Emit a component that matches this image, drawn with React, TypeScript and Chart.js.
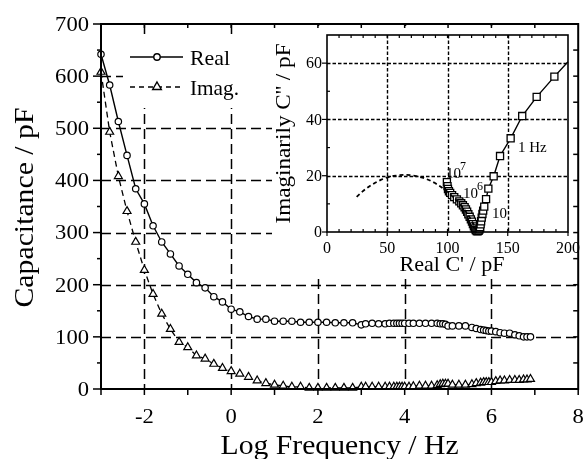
import React, { useEffect, useRef } from 'react';
import { Chart, registerables } from 'chart.js';

Chart.register(...registerables);

const FONT = '"Liberation Serif", "Times New Roman", serif';

// ---------- main chart data ----------
const logFreq = [
  -3.0, -2.8, -2.6, -2.4, -2.2, -2.0, -1.8, -1.6, -1.4, -1.2,
  -1.0, -0.8, -0.6, -0.4, -0.2, 0.0, 0.2, 0.4, 0.6, 0.8,
  1.0, 1.2, 1.4, 1.6, 1.8, 2.0, 2.2, 2.4, 2.6, 2.8,
  3.0, 3.1, 3.25, 3.4, 3.55, 3.65, 3.75, 3.82, 3.88, 3.94,
  4.0, 4.1, 4.2, 4.34, 4.48, 4.62, 4.75, 4.82, 4.88, 4.94,
  5.0, 5.1, 5.25, 5.4, 5.55, 5.65, 5.75, 5.82, 5.88, 5.94,
  6.0, 6.1, 6.2, 6.3, 6.42, 6.54, 6.64, 6.74, 6.82, 6.9,
];
const realCap = [
  642, 583, 513, 448, 384, 355, 313, 282, 259, 236,
  220, 204, 194, 177, 167, 153, 148, 139, 134, 134,
  130, 130, 130, 128, 128, 128, 128, 127, 127, 127,
  123, 125, 126, 125, 125, 126, 126, 126, 126, 126,
  126, 126, 126, 126, 126, 126, 126, 125, 125, 124,
  121, 121, 121, 121, 118, 116, 114, 113, 112, 111,
  111, 110, 108, 107, 107, 104, 102, 100, 100, 100,
];
const imagCap = [
  608, 493, 408, 341, 282, 228, 182, 144, 115, 90,
  80, 64, 58, 48, 40, 34, 29, 23, 16, 11,
  8, 6, 4, 4, 2, 2, 2, 2, 2, 2,
  4, 4, 4, 4, 4, 4, 4, 4, 4, 4,
  4, 4, 5, 6, 6, 6, 7, 9, 10, 10,
  10, 8, 8, 8, 9, 11, 12, 13, 13, 13,
  13, 15, 16, 16, 17, 17, 17, 18, 18, 19,
];
const xTickLabels = [-2, 0, 2, 4, 6, 8];
const xTickMarks = [-3, -2, -1, 0, 1, 2, 3, 4, 5, 6, 7, 8];
const xGridValues = [-2, 0, 2, 4, 6];
const yTickLabels = [0, 100, 200, 300, 400, 500, 600, 700];
const yMinorTicks = [50, 150, 250, 350, 450, 550, 650];
const yGridValues = [100, 200, 300, 400, 500, 600];

// ---------- inset data ----------
const nyqReal = [
  99.5, 100.0, 100.4, 101.2, 102.2, 103.8, 105.6, 107.8, 109.8, 111.4,
  112.8, 114.2, 115.3, 116.3, 117.3, 118.4, 119.4, 120.3, 121.1, 121.9,
  122.7, 123.4, 124.2, 125.0, 125.8, 126.5, 127.0, 127.5, 127.9, 128.4,
  129.0, 129.6, 130.5, 132.0, 133.9, 138.3, 143.6, 152.4, 162.0, 174.0,
  188.7, 200.0,
];
const nyqImag = [
  17.7, 16.3, 15.3, 14.5, 13.9, 13.1, 12.4, 11.6, 10.9, 10.2,
  9.5, 8.8, 8.0, 7.2, 6.3, 5.4, 4.5, 3.7, 2.8, 2.0,
  1.3, 0.7, 0.3, 0.2, 0.4, 0.9, 1.7, 2.7, 3.8, 5.1,
  6.4, 7.6, 9.0, 11.7, 15.4, 19.8, 27.0, 33.3, 41.2, 48.0,
  55.2, 60.5,
];
const fitReal = [24.6, 30, 35, 40, 45, 50, 55, 60, 65, 70, 75, 80, 85, 90, 95, 100, 105, 110, 115, 120, 124];
const fitImag = [12.5, 14.6, 16.2, 17.5, 18.6, 19.4, 19.9, 20.2, 20.3, 20.2, 19.8, 19.2, 18.4, 17.3, 15.9, 14.2, 12.3, 10.1, 7.4, 4.1, 0.5];
const insetXTicks = [0, 50, 100, 150, 200];
const insetYTicks = [0, 20, 40, 60];
const insetXGrid = [50, 100, 150];
const insetYGrid = [20, 40, 60];
const annoText = ['10', '10', '10', '1 Hz'];
const annoSup = ['7', '6', '', ''];
const annoX = [98.8, 112.9, 137, 158.5];
const annoY = [19.2, 12.1, 5, 28.4];

function drawText(
  ctx: CanvasRenderingContext2D,
  s: string,
  x: number,
  y: number,
  size: number,
  opts: { align?: CanvasTextAlign; width?: number; sx?: number; rot?: number } = {}
) {
  ctx.save();
  ctx.font = `${size}px ${FONT}`;
  let sx = opts.sx ?? 1;
  if (opts.width) sx = opts.width / ctx.measureText(s).width;
  ctx.translate(x, y);
  if (opts.rot) ctx.rotate(opts.rot);
  ctx.scale(sx, 1);
  ctx.textAlign = opts.align ?? 'left';
  ctx.textBaseline = 'alphabetic';
  ctx.fillStyle = '#000';
  ctx.fillText(s, 0, 0);
  ctx.restore();
}

function seg(ctx: CanvasRenderingContext2D, x1: number, y1: number, x2: number, y2: number) {
  ctx.beginPath();
  ctx.moveTo(x1, y1);
  ctx.lineTo(x2, y2);
  ctx.stroke();
}

const mainDecor = {
  id: 'mainDecor',
  beforeDatasetsDraw(chart: any) {
    const { ctx, chartArea: a, scales } = chart;
    const xs = scales.x;
    const ys = scales.y;
    ctx.save();
    ctx.strokeStyle = '#000';
    ctx.lineWidth = 1.5;
    ctx.setLineDash([10, 5]);
    for (const v of xGridValues) {
      const px = Math.round(xs.getPixelForValue(v)) + 0.5;
      seg(ctx, px, a.top, px, a.bottom);
    }
    for (const v of yGridValues) {
      const py = Math.round(ys.getPixelForValue(v)) + 0.5;
      seg(ctx, a.left, py, a.right, py);
    }
    ctx.setLineDash([]);
    // white boxes behind legend and inset
    ctx.fillStyle = '#fff';
    ctx.fillRect(123, 36, 150, 72);
    ctx.fillRect(272, 26, 304, 248);
    ctx.restore();
  },
  afterDatasetsDraw(chart: any) {
    const { ctx, chartArea: a, scales } = chart;
    const xs = scales.x;
    const ys = scales.y;
    ctx.save();
    ctx.strokeStyle = '#000';
    ctx.lineWidth = 2;
    ctx.setLineDash([]);
    ctx.strokeRect(a.left, a.top, a.right - a.left, a.bottom - a.top);
    ctx.lineWidth = 1.5;
    for (const v of yTickLabels) {
      const py = ys.getPixelForValue(v);
      seg(ctx, a.left - 8, py, a.left, py);
      if (v > 0 && v < 700) seg(ctx, a.right - 5, py, a.right, py);
    }
    for (const v of yMinorTicks) {
      const py = ys.getPixelForValue(v);
      seg(ctx, a.left - 4, py, a.left, py);
      seg(ctx, a.right - 5, py, a.right, py);
    }
    for (const v of xTickMarks) {
      const px = xs.getPixelForValue(v);
      seg(ctx, px, a.bottom, px, a.bottom + 6);
      if (v > -3 && v < 8) seg(ctx, px, a.top, px, a.top + 4);
    }
    ctx.restore();

    for (const v of yTickLabels) {
      drawText(ctx, String(v), a.left - 12, ys.getPixelForValue(v) + 6.8, 20, { align: 'right', sx: 1.13 });
    }
    for (const v of xTickLabels) {
      drawText(ctx, String(v), xs.getPixelForValue(v), a.bottom + 34, 20, { align: 'center', sx: 1.13 });
    }
    drawText(ctx, 'Log Frequency / Hz', (a.left + a.right) / 2, 454, 28, { align: 'center', width: 238 });
    drawText(ctx, 'Capacitance / pF', 33, (a.top + a.bottom) / 2 + 1, 28, { align: 'center', width: 200, rot: -Math.PI / 2 });

    // legend
    ctx.save();
    ctx.strokeStyle = '#000';
    ctx.lineWidth = 1.4;
    seg(ctx, 130, 57, 183, 57);
    ctx.setLineDash([5, 4]);
    seg(ctx, 130, 87, 184, 87);
    ctx.setLineDash([]);
    ctx.fillStyle = '#fff';
    ctx.beginPath();
    ctx.arc(157, 57, 3.2, 0, Math.PI * 2);
    ctx.fill();
    ctx.stroke();
    const r = 5;
    ctx.beginPath();
    ctx.moveTo(157, 87 - r);
    ctx.lineTo(157 + 0.866 * r, 87 + 0.5 * r);
    ctx.lineTo(157 - 0.866 * r, 87 + 0.5 * r);
    ctx.closePath();
    ctx.fill();
    ctx.stroke();
    ctx.restore();
    drawText(ctx, 'Real', 190, 64.5, 21, { width: 40 });
    drawText(ctx, 'Imag.', 190, 94.5, 21, { width: 49 });
  },
};

const insetDecor = {
  id: 'insetDecor',
  beforeDatasetsDraw(chart: any) {
    const { ctx, chartArea: a, scales } = chart;
    const xs = scales.x;
    const ys = scales.y;
    ctx.save();
    ctx.strokeStyle = '#000';
    ctx.lineWidth = 1.4;
    ctx.setLineDash([3.5, 2]);
    for (const v of insetXGrid) {
      const px = Math.round(xs.getPixelForValue(v)) + 0.5;
      seg(ctx, px, a.top, px, a.bottom);
    }
    for (const v of insetYGrid) {
      const py = Math.round(ys.getPixelForValue(v)) + 0.5;
      seg(ctx, a.left, py, a.right, py);
    }
    ctx.restore();
  },
  afterDatasetsDraw(chart: any) {
    const { ctx, chartArea: a, scales } = chart;
    const xs = scales.x;
    const ys = scales.y;
    ctx.save();
    ctx.strokeStyle = '#000';
    ctx.lineWidth = 1.6;
    ctx.setLineDash([]);
    ctx.strokeRect(a.left, a.top, a.right - a.left, a.bottom - a.top);
    ctx.lineWidth = 1.2;
    for (let v = 10; v < 200; v += 10) {
      const px = xs.getPixelForValue(v);
      seg(ctx, px, a.bottom, px, a.bottom - 3);
      seg(ctx, px, a.top, px, a.top + 3);
    }
    for (const v of insetXTicks) {
      const px = xs.getPixelForValue(v);
      seg(ctx, px, a.bottom, px, a.bottom + 4);
    }
    for (const v of insetYTicks) {
      const py = ys.getPixelForValue(v);
      seg(ctx, a.left - 5, py, a.left, py);
    }
    for (let v = 10; v < 70; v += 20) {
      const py = ys.getPixelForValue(v);
      seg(ctx, a.left, py, a.left + 3, py);
    }
    ctx.restore();

    for (const v of insetYTicks) {
      drawText(ctx, String(v), a.left - 5, ys.getPixelForValue(v) + 5.3, 16, { align: 'right' });
    }
    for (const v of insetXTicks) {
      drawText(ctx, String(v), xs.getPixelForValue(v), a.bottom + 21, 16, { align: 'center' });
    }
    drawText(ctx, "Real C' / pF", 182, 247, 22, { align: 'center', width: 105 });
    drawText(ctx, "Imaginarily C'' / pF", 20, (a.top + a.bottom) / 2, 20, { align: 'center', width: 180, rot: -Math.PI / 2 });

    for (let i = 0; i < annoText.length; i++) {
      const px = xs.getPixelForValue(annoX[i]);
      const py = ys.getPixelForValue(annoY[i]);
      drawText(ctx, annoText[i], px, py, 15, {});
      if (annoSup[i]) {
        ctx.save();
        ctx.font = `15px ${FONT}`;
        const w = ctx.measureText(annoText[i]).width;
        ctx.restore();
        drawText(ctx, annoSup[i], px + w - 1, py - 8, 12, {});
      }
    }
  },
};

export default function App() {
  const mainRef = useRef<HTMLCanvasElement>(null);
  const insetRef = useRef<HTMLCanvasElement>(null);

  useEffect(() => {
    const main = new Chart(mainRef.current as HTMLCanvasElement, {
      type: 'scatter',
      data: {
        datasets: [
          {
            label: 'Imag.',
            data: logFreq.map((x, i) => ({ x, y: imagCap[i] })),
            showLine: true,
            borderColor: '#000',
            borderWidth: 1.3,
            borderDash: [6, 4],
            pointStyle: 'triangle',
            pointRadius: 4.6,
            pointBackgroundColor: '#fff',
            pointBorderColor: '#000',
            pointBorderWidth: 1.2,
            clip: false,
          } as any,
          {
            label: 'Real',
            data: logFreq.map((x, i) => ({ x, y: realCap[i] })),
            showLine: true,
            borderColor: '#000',
            borderWidth: 1.4,
            pointStyle: 'circle',
            pointRadius: 3.2,
            pointBackgroundColor: '#fff',
            pointBorderColor: '#000',
            pointBorderWidth: 1.2,
            clip: false,
          } as any,
        ],
      },
      options: {
        animation: false,
        responsive: false,
        maintainAspectRatio: false,
        events: [],
        layout: { padding: { left: 101, right: 3, top: 24, bottom: 70 } },
        plugins: { legend: { display: false }, tooltip: { enabled: false }, title: { display: false } },
        scales: {
          x: { type: 'linear', min: -3, max: 8, display: false },
          y: { type: 'linear', min: 0, max: 700, display: false },
        },
      },
      plugins: [mainDecor],
    });

    const inset = new Chart(insetRef.current as HTMLCanvasElement, {
      type: 'scatter',
      data: {
        datasets: [
          {
            label: 'fit',
            data: fitReal.map((x, i) => ({ x, y: fitImag[i] })),
            showLine: true,
            borderColor: '#000',
            borderWidth: 1.8,
            borderDash: [4, 3],
            pointRadius: 0,
            clip: false,
          } as any,
          {
            label: 'data',
            data: nyqReal.map((x, i) => ({ x, y: nyqImag[i] })),
            showLine: true,
            borderColor: '#000',
            borderWidth: 1.4,
            pointStyle: 'rect',
            pointRadius: nyqReal.map((_, i) => (i === nyqReal.length - 1 ? 0 : 5)),
            pointBackgroundColor: '#fff',
            pointBorderColor: '#000',
            pointBorderWidth: 1.3,
            clip: false,
          } as any,
        ],
      },
      options: {
        animation: false,
        responsive: false,
        maintainAspectRatio: false,
        events: [],
        layout: { padding: { left: 57, right: 16, top: 11, bottom: 48 } },
        plugins: { legend: { display: false }, tooltip: { enabled: false }, title: { display: false } },
        scales: {
          x: { type: 'linear', min: 0, max: 200, display: false },
          y: { type: 'linear', min: 0, max: 70, display: false },
        },
      },
      plugins: [insetDecor],
    });

    return () => {
      main.destroy();
      inset.destroy();
    };
  }, []);

  return (
    <div style={{ position: 'fixed', left: 0, top: 0, width: 584, height: 459, background: '#fff' }}>
      <canvas ref={mainRef} width={584} height={459} style={{ position: 'absolute', left: 0, top: 0, width: 584, height: 459 }} />
      <canvas ref={insetRef} width={314} height={256} style={{ position: 'absolute', left: 270, top: 24, width: 314, height: 256 }} />
    </div>
  );
}
